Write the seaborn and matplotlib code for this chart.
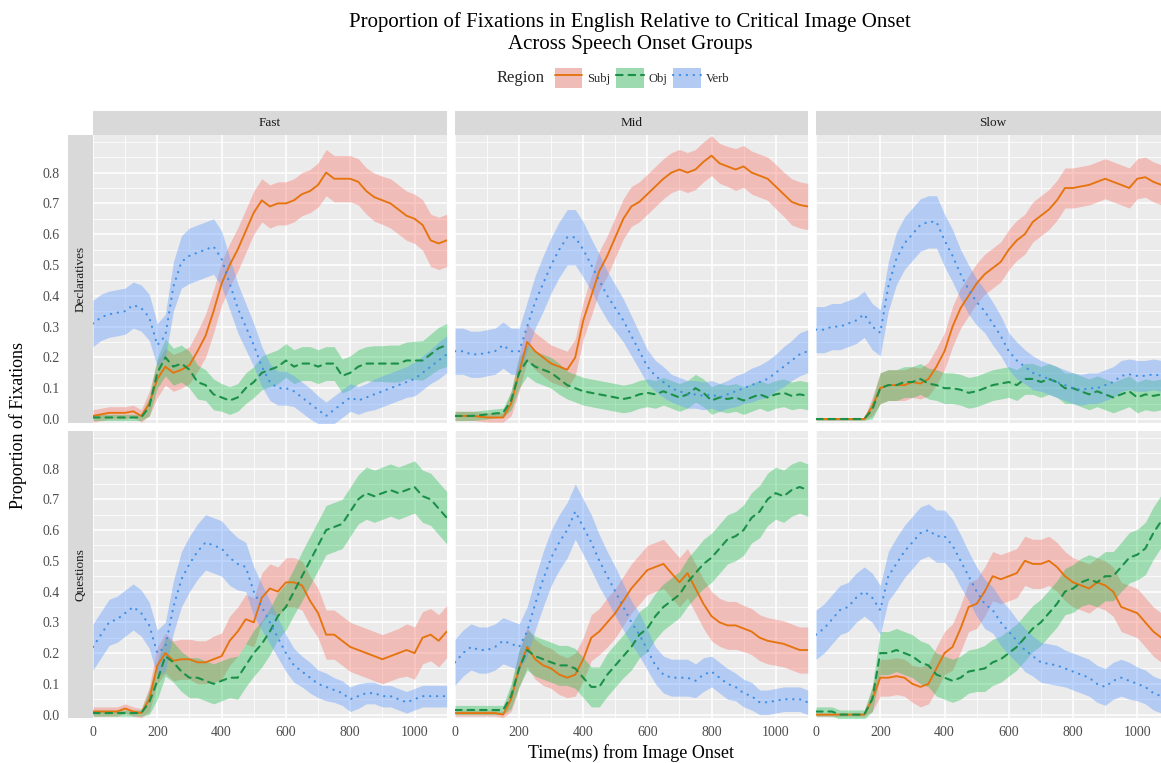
import numpy as np
import pandas as pd
import matplotlib
matplotlib.use("Agg")
import matplotlib.pyplot as plt
import seaborn as sns
from matplotlib.patches import Patch
from matplotlib.lines import Line2D

# ---------------- data (25 ms steps) ----------------
time_ms = np.arange(0, 1101, 25)

regions = ["Subj", "Obj", "Verb"]
speeds = ["Fast", "Mid", "Slow"]
sentences = ["Declaratives", "Questions"]
x_ticks = [0, 200, 400, 600, 800, 1000]
y_ticks = [0.0, 0.1, 0.2, 0.3, 0.4, 0.5, 0.6, 0.7, 0.8]

# Declaratives / Fast
fd_subj = [0.01,0.015,0.02,0.02,0.02,0.025,0.01,0.05,0.13,0.17,0.15,0.16,0.175,0.22,0.27,0.35,0.44,0.50,0.55,0.61,0.67,0.71,0.69,0.70,0.70,0.71,0.73,0.74,0.76,0.80,0.78,0.78,0.78,0.77,0.74,0.72,0.71,0.70,0.68,0.66,0.65,0.63,0.58,0.57,0.58]
fd_obj = [0.005,0.005,0.005,0.005,0.005,0.005,0.005,0.04,0.15,0.20,0.17,0.18,0.16,0.12,0.11,0.08,0.07,0.06,0.07,0.10,0.12,0.15,0.16,0.17,0.19,0.17,0.18,0.18,0.17,0.18,0.18,0.14,0.15,0.17,0.18,0.18,0.18,0.18,0.18,0.19,0.19,0.19,0.21,0.23,0.24]
fd_verb = [0.31,0.33,0.34,0.345,0.35,0.37,0.36,0.33,0.24,0.27,0.43,0.51,0.53,0.54,0.55,0.56,0.52,0.44,0.36,0.30,0.24,0.17,0.12,0.10,0.10,0.09,0.07,0.05,0.03,0.01,0.03,0.05,0.07,0.06,0.07,0.08,0.09,0.10,0.11,0.12,0.13,0.15,0.17,0.19,0.21]
fd_subj_hw = [0.02,0.02,0.02,0.02,0.02,0.02,0.02,0.04,0.06,0.06,0.06,0.06,0.06,0.065,0.07,0.07,0.07,0.07,0.07,0.07,0.07,0.07,0.07,0.07,0.07,0.07,0.07,0.07,0.072,0.075,0.075,0.075,0.075,0.075,0.075,0.078,0.078,0.08,0.08,0.08,0.08,0.082,0.085,0.085,0.085]
fd_obj_hw = [0.01,0.01,0.01,0.01,0.01,0.01,0.01,0.03,0.05,0.06,0.06,0.06,0.06,0.055,0.05,0.05,0.045,0.045,0.045,0.05,0.05,0.055,0.055,0.055,0.055,0.055,0.055,0.055,0.055,0.055,0.055,0.055,0.055,0.055,0.055,0.058,0.058,0.06,0.06,0.06,0.062,0.064,0.066,0.068,0.07]
fd_verb_hw = [0.075,0.075,0.075,0.075,0.075,0.075,0.075,0.075,0.07,0.07,0.08,0.085,0.09,0.09,0.09,0.09,0.09,0.085,0.08,0.075,0.07,0.065,0.06,0.055,0.055,0.05,0.05,0.05,0.045,0.045,0.045,0.045,0.045,0.045,0.045,0.05,0.05,0.05,0.05,0.05,0.055,0.055,0.055,0.06,0.06]

# Declaratives / Mid
md_subj = [0.01,0.01,0.01,0.008,0.005,0.005,0.005,0.05,0.15,0.25,0.22,0.20,0.18,0.17,0.16,0.20,0.32,0.40,0.48,0.53,0.59,0.65,0.69,0.705,0.73,0.755,0.78,0.80,0.81,0.80,0.81,0.835,0.855,0.83,0.82,0.81,0.82,0.80,0.79,0.78,0.755,0.73,0.705,0.695,0.69]
md_obj = [0.01,0.01,0.01,0.012,0.015,0.018,0.02,0.06,0.15,0.19,0.17,0.16,0.15,0.13,0.11,0.10,0.09,0.085,0.08,0.075,0.07,0.065,0.07,0.08,0.085,0.08,0.09,0.08,0.07,0.08,0.10,0.085,0.06,0.07,0.065,0.07,0.06,0.07,0.08,0.07,0.08,0.085,0.075,0.08,0.075]
md_verb = [0.22,0.22,0.21,0.21,0.215,0.22,0.24,0.22,0.22,0.30,0.38,0.44,0.50,0.55,0.59,0.59,0.55,0.50,0.45,0.40,0.36,0.32,0.27,0.22,0.17,0.14,0.12,0.10,0.09,0.08,0.08,0.075,0.08,0.07,0.08,0.09,0.10,0.11,0.12,0.13,0.15,0.17,0.19,0.21,0.22]
md_subj_hw = [0.015,0.015,0.015,0.015,0.015,0.015,0.015,0.04,0.06,0.06,0.06,0.06,0.06,0.06,0.06,0.06,0.06,0.065,0.065,0.065,0.065,0.065,0.065,0.065,0.065,0.065,0.065,0.065,0.065,0.065,0.065,0.065,0.065,0.065,0.065,0.068,0.068,0.07,0.07,0.07,0.072,0.072,0.075,0.075,0.075]
md_obj_hw = [0.015,0.015,0.015,0.015,0.015,0.015,0.015,0.03,0.05,0.05,0.05,0.05,0.05,0.05,0.045,0.045,0.045,0.045,0.045,0.045,0.045,0.045,0.045,0.045,0.045,0.045,0.045,0.045,0.045,0.045,0.045,0.045,0.045,0.045,0.045,0.045,0.045,0.045,0.045,0.045,0.045,0.045,0.045,0.045,0.045]
md_verb_hw = [0.075,0.075,0.075,0.075,0.075,0.075,0.075,0.075,0.075,0.08,0.085,0.09,0.09,0.09,0.09,0.09,0.09,0.085,0.085,0.08,0.075,0.07,0.065,0.06,0.055,0.05,0.05,0.045,0.045,0.045,0.045,0.045,0.045,0.045,0.045,0.05,0.05,0.055,0.055,0.06,0.06,0.065,0.065,0.07,0.07]

# Declaratives / Slow
sd_subj = [0.0,0.0,0.0,0.0,0.0,0.0,0.0,0.04,0.10,0.11,0.11,0.11,0.12,0.115,0.13,0.17,0.22,0.30,0.36,0.40,0.44,0.47,0.49,0.51,0.55,0.58,0.60,0.64,0.66,0.68,0.71,0.75,0.75,0.755,0.76,0.77,0.78,0.77,0.76,0.75,0.78,0.785,0.77,0.76,0.75]
sd_obj = [0.0,0.0,0.0,0.0,0.0,0.0,0.0,0.03,0.10,0.11,0.11,0.12,0.12,0.13,0.115,0.11,0.10,0.10,0.095,0.085,0.09,0.10,0.11,0.115,0.12,0.11,0.13,0.13,0.12,0.13,0.12,0.10,0.10,0.09,0.08,0.09,0.08,0.07,0.08,0.09,0.07,0.08,0.075,0.08,0.08]
sd_verb = [0.29,0.29,0.30,0.30,0.31,0.32,0.34,0.30,0.28,0.43,0.52,0.57,0.60,0.63,0.64,0.64,0.58,0.53,0.47,0.42,0.38,0.35,0.31,0.27,0.22,0.19,0.17,0.15,0.14,0.13,0.12,0.11,0.10,0.095,0.10,0.10,0.11,0.12,0.14,0.145,0.14,0.14,0.145,0.14,0.14]
sd_subj_hw = [0.004,0.004,0.004,0.004,0.004,0.004,0.004,0.03,0.05,0.05,0.05,0.05,0.05,0.05,0.055,0.06,0.06,0.065,0.065,0.065,0.065,0.065,0.065,0.065,0.065,0.065,0.065,0.065,0.065,0.065,0.065,0.065,0.065,0.065,0.065,0.065,0.065,0.065,0.065,0.065,0.065,0.065,0.065,0.065,0.065]
sd_obj_hw = [0.004,0.004,0.004,0.004,0.004,0.004,0.004,0.03,0.05,0.05,0.05,0.05,0.05,0.05,0.05,0.05,0.05,0.05,0.05,0.05,0.05,0.05,0.05,0.05,0.05,0.05,0.05,0.05,0.05,0.05,0.05,0.05,0.05,0.05,0.05,0.05,0.05,0.05,0.05,0.05,0.05,0.05,0.05,0.05,0.05]
sd_verb_hw = [0.075,0.075,0.075,0.075,0.075,0.075,0.075,0.075,0.075,0.08,0.085,0.085,0.085,0.085,0.085,0.085,0.085,0.085,0.08,0.08,0.075,0.07,0.07,0.065,0.06,0.06,0.055,0.055,0.05,0.05,0.05,0.05,0.05,0.05,0.05,0.05,0.05,0.05,0.05,0.05,0.05,0.05,0.05,0.05,0.05]

# Questions / Fast
fq_subj = [0.01,0.01,0.01,0.01,0.02,0.01,0.005,0.05,0.16,0.20,0.175,0.18,0.18,0.17,0.17,0.18,0.19,0.24,0.27,0.31,0.30,0.38,0.41,0.40,0.43,0.43,0.42,0.37,0.33,0.26,0.26,0.24,0.22,0.21,0.20,0.19,0.18,0.19,0.20,0.21,0.20,0.25,0.26,0.24,0.27]
fq_obj = [0.005,0.005,0.005,0.005,0.005,0.005,0.005,0.04,0.11,0.19,0.17,0.14,0.12,0.12,0.11,0.10,0.11,0.12,0.12,0.16,0.20,0.23,0.27,0.32,0.35,0.40,0.45,0.50,0.55,0.60,0.61,0.62,0.66,0.70,0.72,0.71,0.72,0.73,0.72,0.73,0.74,0.71,0.70,0.67,0.64]
fq_verb = [0.22,0.26,0.30,0.31,0.33,0.35,0.33,0.29,0.20,0.22,0.35,0.44,0.49,0.53,0.56,0.55,0.54,0.51,0.49,0.48,0.40,0.35,0.30,0.25,0.20,0.16,0.14,0.12,0.10,0.09,0.08,0.07,0.05,0.06,0.07,0.07,0.06,0.06,0.05,0.04,0.05,0.06,0.06,0.06,0.06]
fq_subj_hw = [0.015,0.015,0.015,0.015,0.015,0.015,0.015,0.04,0.06,0.065,0.065,0.065,0.065,0.07,0.07,0.075,0.075,0.08,0.08,0.08,0.08,0.08,0.08,0.08,0.08,0.08,0.08,0.08,0.08,0.08,0.08,0.08,0.08,0.08,0.08,0.08,0.08,0.08,0.08,0.085,0.085,0.085,0.085,0.085,0.085]
fq_obj_hw = [0.01,0.01,0.01,0.01,0.01,0.01,0.01,0.04,0.06,0.065,0.065,0.065,0.065,0.065,0.065,0.065,0.065,0.065,0.07,0.07,0.075,0.075,0.075,0.075,0.075,0.075,0.08,0.08,0.08,0.08,0.08,0.08,0.08,0.08,0.085,0.085,0.085,0.085,0.085,0.085,0.085,0.085,0.085,0.085,0.085]
fq_verb_hw = [0.075,0.075,0.075,0.075,0.075,0.075,0.075,0.075,0.075,0.08,0.085,0.09,0.09,0.09,0.09,0.09,0.09,0.09,0.085,0.08,0.08,0.075,0.07,0.065,0.06,0.055,0.05,0.05,0.045,0.045,0.04,0.04,0.04,0.04,0.035,0.035,0.035,0.035,0.035,0.035,0.035,0.035,0.035,0.035,0.035]

# Questions / Mid
mq_subj = [0.005,0.005,0.005,0.005,0.005,0.005,0.0,0.05,0.15,0.22,0.18,0.16,0.15,0.13,0.12,0.13,0.18,0.25,0.27,0.30,0.33,0.37,0.41,0.44,0.47,0.48,0.49,0.46,0.43,0.46,0.41,0.36,0.32,0.30,0.29,0.29,0.28,0.27,0.25,0.24,0.235,0.23,0.22,0.21,0.21]
mq_obj = [0.015,0.015,0.015,0.015,0.015,0.015,0.015,0.06,0.15,0.21,0.19,0.18,0.17,0.16,0.16,0.15,0.12,0.09,0.09,0.13,0.16,0.19,0.22,0.26,0.28,0.32,0.35,0.37,0.39,0.43,0.46,0.49,0.51,0.54,0.57,0.58,0.60,0.64,0.66,0.70,0.72,0.71,0.73,0.74,0.73]
mq_verb = [0.17,0.20,0.22,0.21,0.21,0.22,0.24,0.23,0.22,0.27,0.36,0.44,0.51,0.56,0.60,0.66,0.61,0.56,0.50,0.45,0.40,0.35,0.30,0.26,0.21,0.16,0.13,0.12,0.12,0.12,0.11,0.13,0.14,0.12,0.10,0.09,0.07,0.06,0.04,0.04,0.045,0.05,0.05,0.05,0.04]
mq_subj_hw = [0.01,0.01,0.01,0.01,0.01,0.01,0.01,0.04,0.06,0.065,0.065,0.065,0.065,0.065,0.065,0.07,0.07,0.075,0.075,0.08,0.08,0.08,0.08,0.08,0.08,0.08,0.08,0.08,0.08,0.08,0.08,0.08,0.08,0.078,0.078,0.078,0.075,0.075,0.075,0.075,0.075,0.075,0.075,0.075,0.075]
mq_obj_hw = [0.015,0.015,0.015,0.015,0.015,0.015,0.015,0.04,0.06,0.065,0.065,0.065,0.065,0.065,0.065,0.065,0.065,0.065,0.065,0.07,0.07,0.07,0.075,0.075,0.075,0.075,0.075,0.075,0.075,0.078,0.078,0.08,0.08,0.08,0.08,0.08,0.082,0.082,0.085,0.085,0.085,0.085,0.085,0.085,0.085]
mq_verb_hw = [0.075,0.075,0.075,0.075,0.075,0.075,0.075,0.075,0.075,0.08,0.085,0.09,0.09,0.09,0.09,0.09,0.09,0.09,0.085,0.08,0.08,0.075,0.07,0.07,0.065,0.06,0.06,0.06,0.06,0.06,0.055,0.055,0.05,0.05,0.05,0.045,0.045,0.045,0.04,0.04,0.04,0.04,0.04,0.04,0.04]

# Questions / Slow
sq_subj = [0.0,0.0,0.0,0.0,0.0,0.0,0.0,0.05,0.12,0.12,0.125,0.12,0.10,0.09,0.10,0.15,0.20,0.22,0.28,0.35,0.36,0.40,0.45,0.44,0.45,0.46,0.50,0.49,0.49,0.50,0.48,0.45,0.43,0.42,0.41,0.43,0.42,0.40,0.35,0.34,0.33,0.30,0.27,0.25,0.24]
sq_obj = [0.01,0.01,0.01,0.0,0.0,0.0,0.0,0.05,0.20,0.20,0.21,0.20,0.19,0.17,0.16,0.13,0.12,0.11,0.12,0.14,0.145,0.15,0.17,0.18,0.20,0.22,0.25,0.28,0.30,0.33,0.36,0.40,0.41,0.43,0.44,0.43,0.45,0.45,0.48,0.51,0.52,0.54,0.59,0.63,0.64]
sq_verb = [0.26,0.28,0.31,0.34,0.35,0.38,0.40,0.38,0.34,0.45,0.49,0.53,0.56,0.59,0.60,0.58,0.58,0.55,0.50,0.45,0.40,0.36,0.34,0.30,0.27,0.24,0.21,0.19,0.17,0.165,0.16,0.15,0.14,0.13,0.12,0.10,0.09,0.11,0.12,0.11,0.10,0.09,0.07,0.06,0.06]
sq_subj_hw = [0.005,0.005,0.005,0.005,0.005,0.005,0.005,0.04,0.06,0.06,0.06,0.06,0.06,0.065,0.065,0.07,0.07,0.075,0.075,0.08,0.08,0.08,0.08,0.08,0.08,0.08,0.08,0.08,0.08,0.08,0.08,0.08,0.08,0.08,0.08,0.08,0.08,0.08,0.08,0.08,0.08,0.08,0.08,0.08,0.08]
sq_obj_hw = [0.015,0.015,0.015,0.015,0.015,0.015,0.015,0.04,0.07,0.07,0.07,0.07,0.07,0.07,0.07,0.07,0.07,0.07,0.07,0.07,0.07,0.075,0.075,0.075,0.075,0.075,0.075,0.075,0.075,0.075,0.075,0.075,0.078,0.078,0.08,0.08,0.08,0.08,0.08,0.082,0.082,0.085,0.085,0.085,0.085]
sq_verb_hw = [0.08,0.08,0.08,0.08,0.08,0.08,0.08,0.08,0.08,0.08,0.085,0.085,0.085,0.085,0.085,0.085,0.085,0.085,0.085,0.08,0.08,0.08,0.075,0.075,0.075,0.07,0.07,0.065,0.065,0.065,0.065,0.06,0.06,0.06,0.06,0.06,0.06,0.06,0.06,0.06,0.055,0.055,0.055,0.055,0.055]

# ---------------- long table ----------------
series = {
    ("Declaratives", "Fast"): [(fd_subj, fd_subj_hw), (fd_obj, fd_obj_hw), (fd_verb, fd_verb_hw)],
    ("Declaratives", "Mid"): [(md_subj, md_subj_hw), (md_obj, md_obj_hw), (md_verb, md_verb_hw)],
    ("Declaratives", "Slow"): [(sd_subj, sd_subj_hw), (sd_obj, sd_obj_hw), (sd_verb, sd_verb_hw)],
    ("Questions", "Fast"): [(fq_subj, fq_subj_hw), (fq_obj, fq_obj_hw), (fq_verb, fq_verb_hw)],
    ("Questions", "Mid"): [(mq_subj, mq_subj_hw), (mq_obj, mq_obj_hw), (mq_verb, mq_verb_hw)],
    ("Questions", "Slow"): [(sq_subj, sq_subj_hw), (sq_obj, sq_obj_hw), (sq_verb, sq_verb_hw)],
}
frames = []
for (sent, spd), trio in series.items():
    for reg, (m, hw) in zip(regions, trio):
        m = np.array(m)
        hw = np.array(hw)
        frames.append(pd.DataFrame({"Time": time_ms, "Prop": m, "lo": m - hw, "hi": m + hw,
                                    "Region": reg, "Speed": spd, "Sentence": sent}))
df = pd.concat(frames, ignore_index=True)

# ---------------- style ----------------
sns.set_theme(style="darkgrid")
plt.rcParams["font.family"] = ["Liberation Serif", "DejaVu Serif"]

line_col = {"Subj": "#E5740E", "Obj": "#1B9048", "Verb": "#3F8FE6"}
fill_col = {"Subj": "#F8766D", "Obj": "#00BA38", "Verb": "#619CFF"}
fill_alpha = {"Subj": 0.4, "Obj": 0.33, "Verb": 0.4}
line_w = {"Subj": 1.35, "Obj": 1.5, "Verb": 1.6}
dash_map = {"Subj": "", "Obj": (3.2, 2.8), "Verb": (0.1, 3.0)}

W, H = 1161, 763
fig = plt.figure(figsize=(W / 100, H / 100), dpi=100)
fig.patch.set_facecolor("white")


def rect(x0, y0, x1, y1):
    return [x0 / W, 1 - y1 / H, (x1 - x0) / W, (y1 - y0) / H]


def strip(r, label, rot):
    st = fig.add_axes(r)
    st.set_facecolor("#D9D9D9")
    st.set_xticks([])
    st.set_yticks([])
    for s in st.spines.values():
        s.set_visible(False)
    st.text(0.5, 0.5, label, rotation=rot, ha="center", va="center",
            fontsize=9.5, color="#1A1A1A", transform=st.transAxes)


cols_x = [(93, 446.7), (455, 807.7), (816, 1169.4)]
rows_y = [(135, 422.7), (431, 718.3)]
x_minor = [100, 300, 500, 700, 900, 1100]
y_minor = [0.05, 0.15, 0.25, 0.35, 0.45, 0.55, 0.65, 0.75, 0.85, 0.9]

for i, sent in enumerate(sentences):
    y0, y1 = rows_y[i]
    for j, spd in enumerate(speeds):
        x0, x1 = cols_x[j]
        ax = fig.add_axes(rect(x0, y0, x1, y1))
        ax.set_facecolor("#EBEBEB")
        sub = df[(df.Sentence == sent) & (df.Speed == spd)]
        for reg in regions:
            r = sub[sub.Region == reg]
            ax.fill_between(r.Time, r.lo, r.hi, color=fill_col[reg], alpha=fill_alpha[reg],
                            linewidth=0, zorder=1)
        sns.lineplot(data=sub, x="Time", y="Prop", hue="Region", style="Region",
                     hue_order=regions, style_order=regions, palette=line_col,
                     dashes=dash_map, linewidth=1.35, legend=False, errorbar=None,
                     estimator=None, ax=ax, zorder=3)
        for ln, reg in zip(ax.lines, regions):
            ln.set_linewidth(line_w[reg])
            ln.set_dash_capstyle("round")
        ax.set_xlabel("")
        ax.set_ylabel("")
        ax.set_xticks(x_ticks)
        ax.set_xticks(x_minor, minor=True)
        ax.set_yticks(y_ticks)
        ax.set_yticks(y_minor, minor=True)
        ax.set_xlim(0, 1100)
        ax.set_ylim(-0.012, 0.922)
        ax.grid(which="major", color="white", linewidth=1.1)
        ax.grid(which="minor", color="white", linewidth=0.55)
        ax.set_axisbelow(True)
        for s in ax.spines.values():
            s.set_visible(False)
        ax.spines["left"].set_position(("outward", 18))
        ax.tick_params(which="minor", length=0)
        ax.tick_params(which="major", length=3.2, width=0.8, color="#333333",
                       labelcolor="#4D4D4D", labelsize=10, pad=2.5)
        if j == 0:
            ax.set_yticklabels([f"{v:.1f}" for v in y_ticks])
        else:
            ax.tick_params(left=False, labelleft=False)
        if i == 1:
            ax.set_xticklabels([str(v) for v in x_ticks])
        else:
            ax.tick_params(bottom=False, labelbottom=False)

        if j == 0:
            strip(rect(68.3, y0, 92.5, y1), sent, 90)
        if i == 0:
            strip(rect(x0, 110.5, x1, 135), spd, 0)

# titles
fig.text(630 / W, 1 - 33 / H,
         "Proportion of Fixations in English Relative to Critical Image Onset\nAcross Speech Onset Groups",
         ha="center", va="center", fontsize=15, linespacing=1.2, color="black")
fig.text(631 / W, 1 - 753 / H, "Time(ms) from Image Onset", ha="center", va="center",
         fontsize=13, color="black")
fig.text(18 / W, 1 - 426 / H, "Proportion of Fixations", ha="center", va="center",
         rotation=90, fontsize=13, color="black")

# legend
fig.text(545 / W, 1 - 78 / H, "Region", ha="right", va="center", fontsize=12)
handles = []
for reg in regions:
    handles.append((Patch(facecolor="#EBEBEB", edgecolor="none"),
                    Patch(facecolor=fill_col[reg], alpha=fill_alpha[reg], edgecolor="none"),
                    Line2D([], [], color=line_col[reg], lw=line_w[reg],
                           dashes=dash_map[reg] if dash_map[reg] else (None, None),
                           dash_capstyle="round")))
fig.legend(handles=handles, labels=regions, loc="center left",
           bbox_to_anchor=(546 / W, 1 - 78 / H), ncol=3, frameon=False,
           handlelength=2.2, handleheight=2.2, handletextpad=0.4,
           columnspacing=0.45, fontsize=9, borderpad=0.2)

fig.savefig("out.png", dpi=100)
